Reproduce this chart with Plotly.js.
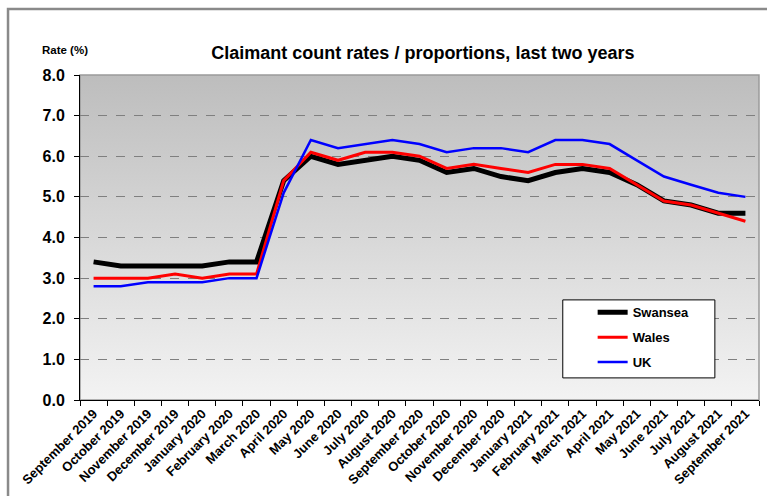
<!DOCTYPE html>
<html>
<head>
<meta charset="utf-8">
<script src="https://cdn.plot.ly/plotly-3.0.1.min.js"></script>
<style>
html,body{margin:0;padding:0;background:#fff;}
#chart{width:767px;height:496px;}
</style>
</head>
<body>
<div id="chart"></div>
<script>
var months = ["September 2019","October 2019","November 2019","December 2019","January 2020","February 2020","March 2020","April 2020","May 2020","June 2020","July 2020","August 2020","September 2020","October 2020","November 2020","December 2020","January 2021","February 2021","March 2021","April 2021","May 2021","June 2021","July 2021","August 2021","September 2021"];
var swansea = [3.4,3.3,3.3,3.3,3.3,3.4,3.4,5.4,6.0,5.8,5.9,6.0,5.9,5.6,5.7,5.5,5.4,5.6,5.7,5.6,5.3,4.9,4.8,4.6,4.6];
var wales   = [3.0,3.0,3.0,3.1,3.0,3.1,3.1,5.4,6.1,5.9,6.1,6.1,6.0,5.7,5.8,5.7,5.6,5.8,5.8,5.7,5.3,4.9,4.8,4.6,4.4];
var uk      = [2.8,2.8,2.9,2.9,2.9,3.0,3.0,5.1,6.4,6.2,6.3,6.4,6.3,6.1,6.2,6.2,6.1,6.4,6.4,6.3,5.9,5.5,5.3,5.1,5.0];
var yTicks = [0,1,2,3,4,5,6,7,8];
var yTickText = ["0.0","1.0","2.0","3.0","4.0","5.0","6.0","7.0","8.0"];

var FONT = "Liberation Sans, Arial, sans-serif";

var traces = [
  {x: months, y: swansea, name: "Swansea", type: "scatter", mode: "lines",
   line: {color: "#000000", width: 5}, legendgroup: "a"},
  {x: months, y: wales, name: "Wales", type: "scatter", mode: "lines",
   line: {color: "#ff0000", width: 3}, legendgroup: "b"},
  {x: months, y: uk, name: "UK", type: "scatter", mode: "lines",
   line: {color: "#0000ff", width: 2.5}, legendgroup: "c"}
];

var grad = '<svg xmlns="http://www.w3.org/2000/svg" width="100" height="100" preserveAspectRatio="none">' +
  '<defs><linearGradient id="g" x1="0" y1="0" x2="0" y2="1">' +
  '<stop offset="0" stop-color="#bdbdbd"/><stop offset="1" stop-color="#f3f3f3"/></linearGradient></defs>' +
  '<rect width="100" height="100" fill="url(#g)"/></svg>';

var layout = {
  width: 767, height: 496,
  margin: {l: 80, r: 8, t: 75, b: 96},
  paper_bgcolor: "#ffffff",
  plot_bgcolor: "rgba(0,0,0,0)",
  font: {family: FONT, color: "#000"},
  title: {text: "<b>Claimant count rates / proportions, last two years</b>",
          font: {size: 18, family: FONT, color: "#000"},
          x: 0.505, xref: "paper", xanchor: "center", y: 0.893, yanchor: "middle"},
  showlegend: true,
  legend: {x: 0.755, y: 0.316, xanchor: "left", yanchor: "top",
           bgcolor: "rgba(0,0,0,0)", borderwidth: 0,
           font: {size: 13, family: FONT, color: "#000", weight: "bold"},
           traceorder: "grouped", tracegroupgap: 5},
  xaxis: {
    type: "category", categoryorder: "array", categoryarray: months,
    tickmode: "array", tickvals: months, ticktext: months,
    tickson: "boundaries", ticks: "outside", ticklen: 5, tickcolor: "#000",
    tickangle: -45, tickfont: {size: 13, family: FONT, weight: "bold", color: "#000"},
    showline: true, linecolor: "#000", linewidth: 1,
    showgrid: false, zeroline: false, range: [-0.5, 24.5]
  },
  yaxis: {
    range: [0, 8], tickmode: "array", tickvals: yTicks, ticktext: yTickText,
    ticks: "outside", ticklen: 5, tickcolor: "#000", ticklabelstandoff: 6,
    tickfont: {size: 16, family: FONT, weight: "bold", color: "#000"},
    showline: true, linecolor: "#000", linewidth: 1,
    showgrid: true, gridcolor: "#7f7f7f", gridwidth: 1, griddash: "dash",
    zeroline: false
  },
  images: [{
    source: "data:image/svg+xml;charset=utf-8," + encodeURIComponent(grad),
    xref: "paper", yref: "paper", x: 0, y: 1, sizex: 1, sizey: 1,
    xanchor: "left", yanchor: "top", sizing: "stretch", layer: "below"
  }],
  shapes: [
    {type: "rect", xref: "paper", yref: "paper", x0: 0, x1: 1, y0: 0, y1: 1,
     line: {color: "#9a9a9a", width: 1.5}, fillcolor: "rgba(0,0,0,0)", layer: "below"},
    {type: "rect", xref: "paper", yref: "paper", x0: -0.106, x1: 1.05, y0: -0.4, y1: 1.203,
     line: {color: "#8a8a8a", width: 2.5}, fillcolor: "rgba(0,0,0,0)", layer: "above"},
    {type: "rect", xref: "paper", yref: "paper", x0: 0.711, x1: 0.935, y0: 0.068, y1: 0.308,
     line: {color: "#000", width: 1}, fillcolor: "#ffffff", layer: "above"}
  ],
  annotations: [
    {text: "<b>Rate (%)</b>", xref: "paper", yref: "paper", x: -0.059, y: 1.077,
     xanchor: "left", yanchor: "middle", showarrow: false,
     font: {size: 11.5, family: FONT, color: "#000"}}
  ]
};

Plotly.newPlot("chart", traces, layout, {displayModeBar: false, responsive: false});
</script>
</body>
</html>
